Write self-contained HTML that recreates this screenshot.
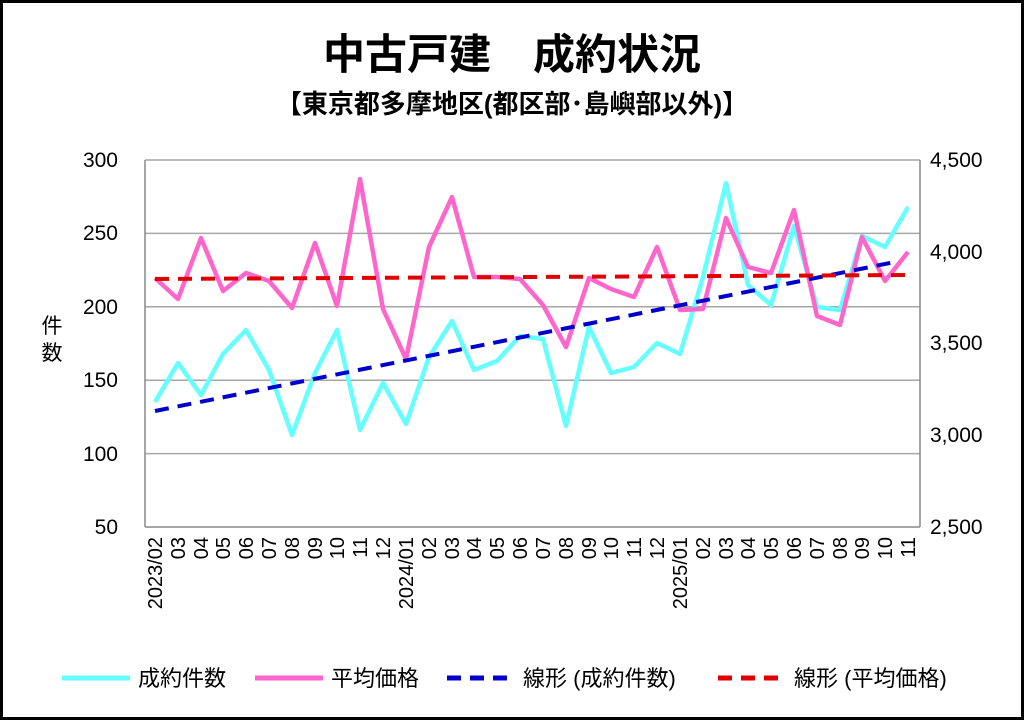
<!DOCTYPE html>
<html><head><meta charset="utf-8"><style>
body{margin:0;background:#fff}
svg{display:block}
text{font-family:"Liberation Sans","Noto Sans CJK JP",sans-serif}
</style></head><body>
<svg width="1024" height="720" xmlns="http://www.w3.org/2000/svg">
<rect x="1.5" y="1.5" width="1021" height="717" fill="#fff" stroke="#000" stroke-width="3"/>
<text x="512" y="69" text-anchor="middle" font-size="42" font-weight="bold">中古戸建　成約状況</text>
<text x="512" y="113" text-anchor="middle" font-size="26" font-weight="bold">【東京都多摩地区(都区部･島嶼部以外)】</text>
<g stroke="#a6a6a6" stroke-width="1.5">
<line x1="145" y1="160" x2="920" y2="160"/><line x1="145" y1="233.4" x2="920" y2="233.4"/>
<line x1="145" y1="306.8" x2="920" y2="306.8"/><line x1="145" y1="380.2" x2="920" y2="380.2"/>
<line x1="145" y1="453.6" x2="920" y2="453.6"/>
</g>
<g stroke="#888" stroke-width="1.5"><line x1="145" y1="160" x2="145" y2="527"/><line x1="920" y1="160" x2="920" y2="527"/><line x1="145" y1="527" x2="920" y2="527"/></g>
<g font-size="21" text-anchor="end">
<text x="118" y="167">300</text><text x="118" y="240">250</text><text x="118" y="314">200</text><text x="118" y="387">150</text><text x="118" y="461">100</text><text x="118" y="534">50</text>
</g>
<g font-size="21" text-anchor="start">
<text x="930" y="167">4,500</text><text x="930" y="259">4,000</text><text x="930" y="350">3,500</text><text x="930" y="442">3,000</text><text x="930" y="534">2,500</text>
</g>
<text x="52" y="333" font-size="21" text-anchor="middle">件</text>
<text x="52" y="360" font-size="21" text-anchor="middle">数</text>
<polyline fill="none" stroke="#66ffff" stroke-width="4.5" stroke-linejoin="round" points="155,402 178,363 201,395 223,354 246,330 269,370 292,435 315,373 337,330 360,430 383,383 406,424 429,357 452,321 474,370 497,361 520,336 543,339 566,426 589,327 611,373 634,367 657,343 680,354 703,277 726,183 748,285 771,305 794,226 817,307 840,310 862,236 885,247 908,207"/>
<polyline fill="none" stroke="#ff66cc" stroke-width="4.5" stroke-linejoin="round" points="155,278 178,299 201,238 223,291 246,273 269,281 292,308 315,243 337,306 360,179 383,309 406,359 429,247 452,197 474,277 497,277 520,279 543,305 566,347 589,278 611,289 634,297 657,247 680,310 703,309 726,218 748,267 771,273 794,210 817,316 840,325 862,237 885,281 908,252"/>
<line x1="155" y1="411" x2="895" y2="262" stroke="#0000cc" stroke-width="4" stroke-dasharray="14,9"/>
<line x1="155" y1="279" x2="910" y2="275" stroke="#e00000" stroke-width="4" stroke-dasharray="14,9"/>
<g font-size="22">
<line x1="62" y1="678" x2="130" y2="678" stroke="#66ffff" stroke-width="5"/><text x="138" y="686">成約件数</text>
<line x1="255" y1="678" x2="323" y2="678" stroke="#ff66cc" stroke-width="5"/><text x="331" y="686">平均価格</text>
<line x1="447" y1="678" x2="515" y2="678" stroke="#0000cc" stroke-width="5" stroke-dasharray="14,9"/><text x="523" y="686">線形 (成約件数)</text>
<line x1="718" y1="678" x2="786" y2="678" stroke="#e00000" stroke-width="5" stroke-dasharray="14,9"/><text x="794" y="686">線形 (平均価格)</text>
</g>
<g font-size="20" text-anchor="end">
<text transform="translate(162,537) rotate(-90)">2023/02</text>
<text transform="translate(185,537) rotate(-90)">03</text>
<text transform="translate(208,537) rotate(-90)">04</text>
<text transform="translate(230,537) rotate(-90)">05</text>
<text transform="translate(253,537) rotate(-90)">06</text>
<text transform="translate(276,537) rotate(-90)">07</text>
<text transform="translate(299,537) rotate(-90)">08</text>
<text transform="translate(322,537) rotate(-90)">09</text>
<text transform="translate(344,537) rotate(-90)">10</text>
<text transform="translate(367,537) rotate(-90)">11</text>
<text transform="translate(390,537) rotate(-90)">12</text>
<text transform="translate(413,537) rotate(-90)">2024/01</text>
<text transform="translate(436,537) rotate(-90)">02</text>
<text transform="translate(459,537) rotate(-90)">03</text>
<text transform="translate(481,537) rotate(-90)">04</text>
<text transform="translate(504,537) rotate(-90)">05</text>
<text transform="translate(527,537) rotate(-90)">06</text>
<text transform="translate(550,537) rotate(-90)">07</text>
<text transform="translate(573,537) rotate(-90)">08</text>
<text transform="translate(596,537) rotate(-90)">09</text>
<text transform="translate(618,537) rotate(-90)">10</text>
<text transform="translate(641,537) rotate(-90)">11</text>
<text transform="translate(664,537) rotate(-90)">12</text>
<text transform="translate(687,537) rotate(-90)">2025/01</text>
<text transform="translate(710,537) rotate(-90)">02</text>
<text transform="translate(733,537) rotate(-90)">03</text>
<text transform="translate(755,537) rotate(-90)">04</text>
<text transform="translate(778,537) rotate(-90)">05</text>
<text transform="translate(801,537) rotate(-90)">06</text>
<text transform="translate(824,537) rotate(-90)">07</text>
<text transform="translate(847,537) rotate(-90)">08</text>
<text transform="translate(869,537) rotate(-90)">09</text>
<text transform="translate(892,537) rotate(-90)">10</text>
<text transform="translate(915,537) rotate(-90)">11</text>
</g>
</svg>
</body></html>
